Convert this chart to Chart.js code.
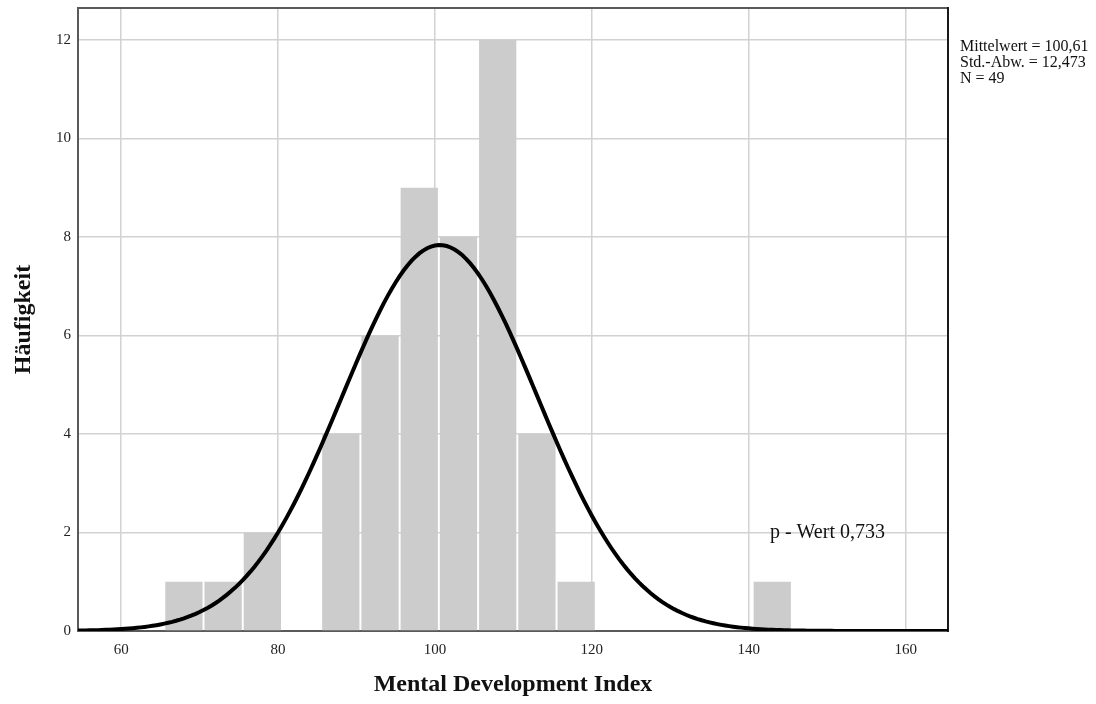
<!DOCTYPE html>
<html>
<head>
<meta charset="utf-8">
<script src="https://cdn.jsdelivr.net/npm/chart.js@4.4.1/dist/chart.umd.min.js"></script>
<style>
html,body{margin:0;padding:0;background:#fff;}
#wrap{width:1096px;height:704px;}
</style>
</head>
<body>
<div id="wrap"><canvas id="chart" width="1096" height="704"></canvas></div>
<script>
// histogram bins (centre of each 5-point class) and counts
const binCenters=[68,73,78,83,88,93,98,103,108,113,118,123,128,133,138,143];
const counts=[1,1,2,0,4,6,9,8,12,4,1,0,0,0,0,1];
const binWidth=5;

// stats shown next to the plot
const mean=100.61, sd=12.473, n=49;
const statLines=['Mittelwert = 100,61','Std.-Abw. = 12,473','N = 49'];
const pLabel='p - Wert 0,733';

const xTicks=[60,80,100,120,140,160];
const yTicks=[0,2,4,6,8,10,12];

// normal curve scaled to the histogram (N * class width)
const curveX=[];
for(let x=54.5;x<=165.5;x+=0.5) curveX.push(x);
const curve=curveX.map(x=>({x:x,y:n*binWidth/(sd*Math.sqrt(2*Math.PI))*Math.exp(-0.5*Math.pow((x-mean)/sd,2))}));

const serif="'Liberation Serif','Times New Roman',serif";

const frame={
 id:'frame',
 beforeDatasetsDraw(c){
  const a=c.chartArea,ctx=c.ctx;
  ctx.save();
  ctx.lineWidth=2;
  ctx.strokeStyle='#5a5a5a';
  ctx.beginPath();
  ctx.moveTo(a.right,a.top);ctx.lineTo(a.left,a.top);ctx.lineTo(a.left,a.bottom);ctx.lineTo(a.right,a.bottom);
  ctx.stroke();
  ctx.strokeStyle='#1a1a1a';
  ctx.beginPath();ctx.moveTo(a.right,a.top-1);ctx.lineTo(a.right,a.bottom+1);ctx.stroke();
  ctx.restore();
 },
 afterDraw(c){
  const a=c.chartArea,ctx=c.ctx;
  ctx.save();
  ctx.fillStyle='#111';
  ctx.font='16px '+serif;
  ctx.textBaseline='middle';
  ctx.textAlign='left';
  statLines.forEach((t,i)=>ctx.fillText(t,a.right+12,47+i*16));
  ctx.font='20px '+serif;
  ctx.fillText(pLabel,c.scales.x.getPixelForValue(142.7),c.scales.y.getPixelForValue(2));
  ctx.restore();
 }
};

new Chart(document.getElementById('chart'),{
 type:'bar',
 data:{datasets:[
  {type:'line',data:curve,borderColor:'#000',borderWidth:4,pointRadius:0,tension:0,order:0},
  {type:'bar',data:binCenters.map((x,i)=>({x:x,y:counts[i]})),backgroundColor:'#cccccc',
   barPercentage:0.95,categoryPercentage:1,order:1}
 ]},
 options:{
  responsive:false,animation:false,
  layout:{padding:{top:8,right:148,left:0,bottom:0}},
  plugins:{legend:{display:false},tooltip:{enabled:false}},
  scales:{
   x:{type:'linear',min:54.5,max:165.4,offset:false,
    afterBuildTicks:s=>{s.ticks=xTicks.map(v=>({value:v}))},
    afterFit:s=>{s.height=73;s.paddingLeft=0;s.paddingRight=0},
    grid:{color:'#d2d2d2',lineWidth:1.5,drawTicks:false,offset:false},
    border:{display:false},
    ticks:{padding:10,color:'#222',font:{family:serif,size:15},maxRotation:0},
    title:{display:true,text:'Mental Development Index',color:'#111',font:{family:serif,size:24,weight:'bold'},padding:{bottom:5}}
   },
   y:{min:0,max:12.65,
    afterBuildTicks:s=>{s.ticks=yTicks.map(v=>({value:v}))},
    afterFit:s=>{s.width=78;s.paddingTop=0;s.paddingBottom=0},
    grid:{color:'#d2d2d2',lineWidth:1.5,drawTicks:false},
    border:{display:false},
    ticks:{padding:7,color:'#222',font:{family:serif,size:15}},
    title:{display:true,text:'Häufigkeit',color:'#111',font:{family:serif,size:24,weight:'bold'},padding:{top:9}}
   }
  }
 },
 plugins:[frame]
});
</script>
</body>
</html>
